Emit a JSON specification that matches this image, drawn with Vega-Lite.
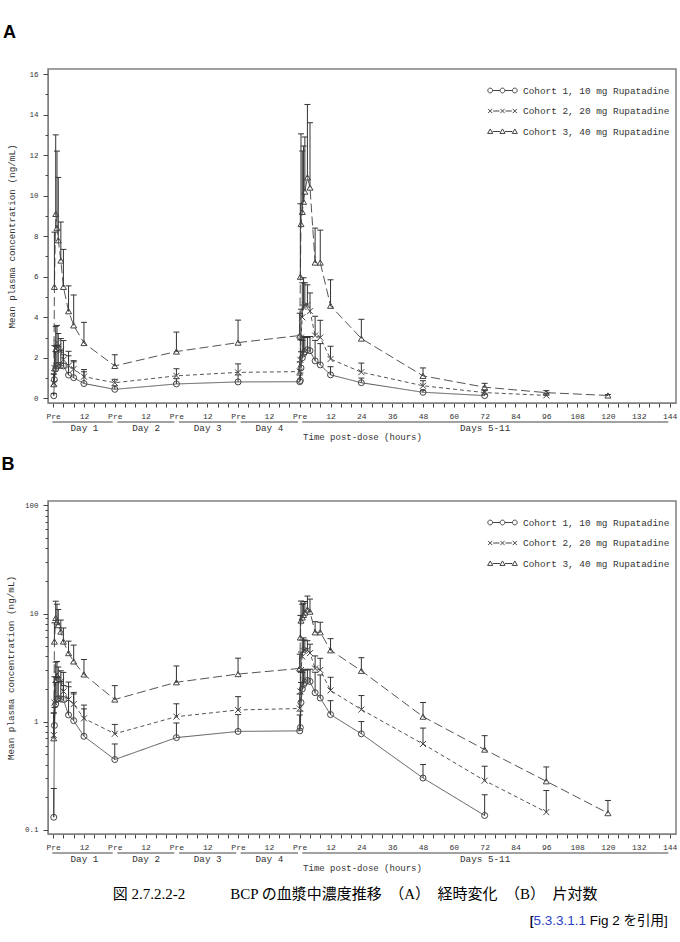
{
  "$schema": "https://vega.github.io/schema/vega-lite/v6.json",
  "background": "white",
  "padding": {"left": 0, "right": 0, "top": 23, "bottom": 4},
  "config": {
    "font": "Liberation Mono",
    "view": {"stroke": "#808080", "strokeWidth": 1.5},
    "axis": {
      "labelFont": "Liberation Mono",
      "titleFont": "Liberation Mono",
      "labelColor": "#333",
      "titleColor": "#333",
      "titleFontWeight": "normal",
      "tickColor": "#444",
      "domainColor": "#808080",
      "grid": false,
      "labelOverlap": false,
      "labelFlush": false,
      "labelBound": false
    }
  },
  "datasets": {
    "pk": [
      {"c": "Cohort 1, 10 mg Rupatadine", "t": 0.25, "m": 0.13, "u": 0.24},
      {"c": "Cohort 1, 10 mg Rupatadine", "t": 0.5, "m": 0.92, "u": 1.35},
      {"c": "Cohort 1, 10 mg Rupatadine", "t": 1, "m": 1.45, "u": 2.3},
      {"c": "Cohort 1, 10 mg Rupatadine", "t": 1.5, "m": 1.6, "u": 2.6},
      {"c": "Cohort 1, 10 mg Rupatadine", "t": 2, "m": 1.63, "u": 2.55},
      {"c": "Cohort 1, 10 mg Rupatadine", "t": 3, "m": 1.62, "u": 2.35},
      {"c": "Cohort 1, 10 mg Rupatadine", "t": 4, "m": 1.6, "u": 2.15},
      {"c": "Cohort 1, 10 mg Rupatadine", "t": 6, "m": 1.15, "u": 2.1},
      {"c": "Cohort 1, 10 mg Rupatadine", "t": 8, "m": 1.02, "u": 1.8},
      {"c": "Cohort 1, 10 mg Rupatadine", "t": 12, "m": 0.73, "u": 1.31},
      {"c": "Cohort 1, 10 mg Rupatadine", "t": 24, "m": 0.445, "u": 0.62},
      {"c": "Cohort 1, 10 mg Rupatadine", "t": 48, "m": 0.71, "u": 0.97},
      {"c": "Cohort 1, 10 mg Rupatadine", "t": 72, "m": 0.81, "u": 1.16},
      {"c": "Cohort 1, 10 mg Rupatadine", "t": 96, "m": 0.82, "u": 1.15},
      {"c": "Cohort 1, 10 mg Rupatadine", "t": 96.25, "m": 0.88, "u": 1.25},
      {"c": "Cohort 1, 10 mg Rupatadine", "t": 96.5, "m": 1.5, "u": 2.3},
      {"c": "Cohort 1, 10 mg Rupatadine", "t": 97, "m": 2.0, "u": 2.85},
      {"c": "Cohort 1, 10 mg Rupatadine", "t": 97.5, "m": 2.2, "u": 3.0},
      {"c": "Cohort 1, 10 mg Rupatadine", "t": 98, "m": 2.3, "u": 3.05},
      {"c": "Cohort 1, 10 mg Rupatadine", "t": 99, "m": 2.4, "u": 3.0},
      {"c": "Cohort 1, 10 mg Rupatadine", "t": 100, "m": 2.35, "u": 3.05},
      {"c": "Cohort 1, 10 mg Rupatadine", "t": 102, "m": 1.85, "u": 2.86},
      {"c": "Cohort 1, 10 mg Rupatadine", "t": 104, "m": 1.65, "u": 2.7},
      {"c": "Cohort 1, 10 mg Rupatadine", "t": 108, "m": 1.16, "u": 1.56},
      {"c": "Cohort 1, 10 mg Rupatadine", "t": 120, "m": 0.77, "u": 1.0},
      {"c": "Cohort 1, 10 mg Rupatadine", "t": 144, "m": 0.3, "u": 0.4},
      {"c": "Cohort 1, 10 mg Rupatadine", "t": 168, "m": 0.135, "u": 0.21},
      {"c": "Cohort 2, 20 mg Rupatadine", "t": 0.25, "m": 0.75, "u": 1.2},
      {"c": "Cohort 2, 20 mg Rupatadine", "t": 0.5, "m": 1.5, "u": 2.6},
      {"c": "Cohort 2, 20 mg Rupatadine", "t": 1, "m": 2.45, "u": 3.55},
      {"c": "Cohort 2, 20 mg Rupatadine", "t": 1.5, "m": 2.75, "u": 3.6},
      {"c": "Cohort 2, 20 mg Rupatadine", "t": 2, "m": 2.55, "u": 3.2},
      {"c": "Cohort 2, 20 mg Rupatadine", "t": 3, "m": 2.35, "u": 2.95},
      {"c": "Cohort 2, 20 mg Rupatadine", "t": 4, "m": 1.9, "u": 2.85},
      {"c": "Cohort 2, 20 mg Rupatadine", "t": 6, "m": 1.6, "u": 2.32},
      {"c": "Cohort 2, 20 mg Rupatadine", "t": 8, "m": 1.45, "u": 1.86},
      {"c": "Cohort 2, 20 mg Rupatadine", "t": 12, "m": 1.07, "u": 1.42},
      {"c": "Cohort 2, 20 mg Rupatadine", "t": 24, "m": 0.77, "u": 0.94},
      {"c": "Cohort 2, 20 mg Rupatadine", "t": 48, "m": 1.11, "u": 1.46},
      {"c": "Cohort 2, 20 mg Rupatadine", "t": 72, "m": 1.28, "u": 1.7},
      {"c": "Cohort 2, 20 mg Rupatadine", "t": 96, "m": 1.32, "u": 1.8},
      {"c": "Cohort 2, 20 mg Rupatadine", "t": 96.25, "m": 1.9, "u": 2.9},
      {"c": "Cohort 2, 20 mg Rupatadine", "t": 96.5, "m": 3.0, "u": 4.4},
      {"c": "Cohort 2, 20 mg Rupatadine", "t": 97, "m": 4.0, "u": 5.7},
      {"c": "Cohort 2, 20 mg Rupatadine", "t": 97.5, "m": 4.5, "u": 5.95},
      {"c": "Cohort 2, 20 mg Rupatadine", "t": 98, "m": 4.6, "u": 5.7},
      {"c": "Cohort 2, 20 mg Rupatadine", "t": 99, "m": 4.6, "u": 5.6},
      {"c": "Cohort 2, 20 mg Rupatadine", "t": 100, "m": 4.3, "u": 5.2},
      {"c": "Cohort 2, 20 mg Rupatadine", "t": 102, "m": 3.1, "u": 4.05},
      {"c": "Cohort 2, 20 mg Rupatadine", "t": 104, "m": 3.0, "u": 3.85},
      {"c": "Cohort 2, 20 mg Rupatadine", "t": 108, "m": 1.94, "u": 2.57},
      {"c": "Cohort 2, 20 mg Rupatadine", "t": 120, "m": 1.29, "u": 1.74},
      {"c": "Cohort 2, 20 mg Rupatadine", "t": 144, "m": 0.62, "u": 0.87},
      {"c": "Cohort 2, 20 mg Rupatadine", "t": 168, "m": 0.284, "u": 0.386},
      {"c": "Cohort 2, 20 mg Rupatadine", "t": 192, "m": 0.145, "u": 0.23},
      {"c": "Cohort 3, 40 mg Rupatadine", "t": 0.25, "m": 0.7, "u": 1.2},
      {"c": "Cohort 3, 40 mg Rupatadine", "t": 0.5, "m": 5.5, "u": 8.2},
      {"c": "Cohort 3, 40 mg Rupatadine", "t": 1, "m": 9.1, "u": 13.0},
      {"c": "Cohort 3, 40 mg Rupatadine", "t": 1.5, "m": 8.4, "u": 12.2},
      {"c": "Cohort 3, 40 mg Rupatadine", "t": 2, "m": 7.8, "u": 10.9},
      {"c": "Cohort 3, 40 mg Rupatadine", "t": 3, "m": 6.8, "u": 8.7},
      {"c": "Cohort 3, 40 mg Rupatadine", "t": 4, "m": 5.5, "u": 7.35},
      {"c": "Cohort 3, 40 mg Rupatadine", "t": 6, "m": 4.3, "u": 5.55},
      {"c": "Cohort 3, 40 mg Rupatadine", "t": 8, "m": 3.6, "u": 5.1},
      {"c": "Cohort 3, 40 mg Rupatadine", "t": 12, "m": 2.73, "u": 3.75},
      {"c": "Cohort 3, 40 mg Rupatadine", "t": 24, "m": 1.6, "u": 2.15},
      {"c": "Cohort 3, 40 mg Rupatadine", "t": 48, "m": 2.31, "u": 3.27},
      {"c": "Cohort 3, 40 mg Rupatadine", "t": 72, "m": 2.75, "u": 3.86},
      {"c": "Cohort 3, 40 mg Rupatadine", "t": 96, "m": 3.1, "u": 4.2},
      {"c": "Cohort 3, 40 mg Rupatadine", "t": 96.25, "m": 6.0, "u": 9.6},
      {"c": "Cohort 3, 40 mg Rupatadine", "t": 96.5, "m": 8.6, "u": 13.05},
      {"c": "Cohort 3, 40 mg Rupatadine", "t": 97, "m": 9.2, "u": 12.2},
      {"c": "Cohort 3, 40 mg Rupatadine", "t": 97.5, "m": 9.7, "u": 12.45},
      {"c": "Cohort 3, 40 mg Rupatadine", "t": 98, "m": 10.2, "u": 12.9},
      {"c": "Cohort 3, 40 mg Rupatadine", "t": 99, "m": 10.9, "u": 14.5},
      {"c": "Cohort 3, 40 mg Rupatadine", "t": 100, "m": 10.4, "u": 13.6},
      {"c": "Cohort 3, 40 mg Rupatadine", "t": 102, "m": 6.7, "u": 8.4},
      {"c": "Cohort 3, 40 mg Rupatadine", "t": 104, "m": 6.7, "u": 8.3},
      {"c": "Cohort 3, 40 mg Rupatadine", "t": 108, "m": 4.57, "u": 5.85},
      {"c": "Cohort 3, 40 mg Rupatadine", "t": 120, "m": 2.95, "u": 3.9},
      {"c": "Cohort 3, 40 mg Rupatadine", "t": 144, "m": 1.11, "u": 1.5},
      {"c": "Cohort 3, 40 mg Rupatadine", "t": 168, "m": 0.55, "u": 0.74},
      {"c": "Cohort 3, 40 mg Rupatadine", "t": 192, "m": 0.28, "u": 0.38},
      {"c": "Cohort 3, 40 mg Rupatadine", "t": 216, "m": 0.142, "u": 0.186}
    ],
    "days": [
      {"day": "Day 1", "start": -0.3, "end": 23.2},
      {"day": "Day 2", "start": 25, "end": 47.2},
      {"day": "Day 3", "start": 49, "end": 71.3},
      {"day": "Day 4", "start": 73, "end": 95.3},
      {"day": "Days 5-11", "start": 97, "end": 239.5}
    ]
  },
  "title": {
    "text": "[5.3.3.1.1",
    "subtitle": "[\u00a0\u00a0\u00a0\u00a0\u00a0\u00a0\u00a0\u00a0\u00a0\u00a0\u00a0\u00a0\u00a0\u00a0 Fig 2 を引用]",
    "orient": "bottom",
    "anchor": "start",
    "align": "left",
    "frame": "bounds",
    "font": "Liberation Sans, Noto Sans CJK JP",
    "fontSize": 13.5,
    "fontWeight": "normal",
    "color": "#2a3fc8",
    "subtitleFont": "Liberation Sans, Noto Sans CJK JP",
    "subtitleFontSize": 13.5,
    "subtitleColor": "#000000",
    "subtitlePadding": -13.5,
    "offset": 12,
    "dx": 529
  },
  "resolve": {"scale": {"x": "independent", "y": "independent", "shape": "independent", "strokeDash": "independent", "color": "independent"}},
  "vconcat": [
    {
      "title": {
        "text": "図 2.7.2.2-2　　　BCP の血漿中濃度推移　（A）\u2002経時変化\u2002（B）\u2002片対数",
        "orient": "bottom",
        "anchor": "middle",
        "frame": "bounds",
        "font": "Liberation Serif, Noto Sans CJK JP",
        "fontSize": 15,
        "fontWeight": "normal",
        "color": "#000000",
        "offset": 15,
        "dx": 16
      },
      "spacing": 13,
      "resolve": {"scale": {"x": "independent", "y": "independent", "shape": "independent", "strokeDash": "independent", "color": "independent"}},
      "vconcat": [
        {
          "spacing": 0,
          "resolve": {"scale": {"x": "independent", "y": "independent", "shape": "independent", "strokeDash": "independent", "color": "independent"}},
          "vconcat": [
            {
              "width": 628,
              "height": 334,
              "title": {"text": "A", "anchor": "start", "frame": "bounds", "font": "Liberation Sans", "fontSize": 18, "fontWeight": "bold", "color": "#000000", "offset": 27, "dx": -5},
              "data": {"name": "pk"},
              "encoding": {
                "x": {
                  "field": "t", "type": "quantitative",
                  "scale": {"domain": [-2, 242.5], "nice": false, "zero": false},
                  "axis": {
                    "title": null,
                    "values": [0,4,8,12,16,20,24,28,32,36,40,44,48,52,56,60,64,68,72,76,80,84,88,92,96,100,104,108,112,116,120,124,128,132,136,140,144,148,152,156,160,164,168,172,176,180,184,188,192,196,200,204,208,212,216,220,224,228,232,236,240],
                    "labelExpr": "datum.value % 12 !== 0 ? '' : (datum.value < 96 ? (datum.value % 24 === 0 ? 'Pre' : '12') : (datum.value === 96 ? 'Pre' : format(datum.value - 96, 'd')))",
                    "labelAngle": 0, "labelFontSize": 8, "tickSize": 4, "labelPadding": 5
                  }
                },
                "y": {
                  "field": "m", "type": "quantitative",
                  "scale": {"domain": [-0.23, 16.25], "nice": false, "zero": false},
                  "axis": {
                    "title": "Mean plasma concentration (ng/mL)",
                    "values": [0,1,2,3,4,5,6,7,8,9,10,11,12,13,14,15,16],
                    "labelExpr": "datum.value % 2 === 0 ? datum.label : ''",
                    "labelFontSize": 7.5, "titleFontSize": 9.3, "titlePadding": 12,
                    "tickSize": {"condition": {"test": "datum.value % 2 === 0", "value": 5}, "value": 3},
                    "labelPadding": 5
                  }
                }
              },
              "layer": [
                {
                  "mark": {"type": "line", "color": "#555555", "strokeWidth": 1},
                  "encoding": {
                    "detail": {"field": "c"},
                    "strokeDash": {"field": "c", "type": "nominal", "legend": null, "scale": {"range": [[1, 0], [4, 3], [9, 4]]}}
                  }
                },
                {
                  "mark": {"type": "rule", "color": "#333333", "strokeWidth": 1},
                  "encoding": {"y2": {"field": "u"}}
                },
                {
                  "mark": {"type": "tick", "orient": "horizontal", "size": 6, "thickness": 1, "color": "#333333", "opacity": 1},
                  "encoding": {
                    "y": {
                      "field": "u", "type": "quantitative",
                      "scale": {"domain": [-0.23, 16.25], "nice": false, "zero": false},
                      "axis": {
                        "title": "Mean plasma concentration (ng/mL)",
                        "values": [0,1,2,3,4,5,6,7,8,9,10,11,12,13,14,15,16],
                        "labelExpr": "datum.value % 2 === 0 ? datum.label : ''",
                        "labelFontSize": 7.5, "titleFontSize": 9.3, "titlePadding": 12,
                        "tickSize": {"condition": {"test": "datum.value % 2 === 0", "value": 5}, "value": 3},
                        "labelPadding": 5
                      }
                    }
                  }
                },
                {
                  "mark": {"type": "point", "filled": false, "size": 36, "strokeWidth": 1, "opacity": 1},
                  "encoding": {
                    "shape": {"field": "c", "type": "nominal", "legend": null, "scale": {"range": ["circle", "M-1,-1L1,1M-1,1L1,-1", "triangle-up"]}},
                    "color": {
                      "field": "c", "type": "nominal",
                      "scale": {"domain": ["Cohort 1, 10 mg Rupatadine", "Cohort 2, 20 mg Rupatadine", "Cohort 3, 40 mg Rupatadine"], "range": ["#444444", "#444444", "#444444"]},
                      "legend": {
                        "title": null, "orient": "top-right", "offset": 6, "padding": 0,
                        "labelFont": "Liberation Mono", "labelFontSize": 9.4, "labelColor": "#333333", "labelLimit": 400,
                        "symbolSize": 900, "symbolStrokeWidth": 1,
                        "labelOffset": 5, "rowPadding": 0.5,
                        "symbolType": {"expr": "indexof(datum.value, 'Cohort 1') === 0 ? 'M-0.98,0a0.16,0.16 0 1,0 0.32,0a0.16,0.16 0 1,0 -0.32,0M-0.66,0L-0.16,0M-0.16,0a0.16,0.16 0 1,0 0.32,0a0.16,0.16 0 1,0 -0.32,0M0.16,0L0.66,0M0.66,0a0.16,0.16 0 1,0 0.32,0a0.16,0.16 0 1,0 -0.32,0' : indexof(datum.value, 'Cohort 2') === 0 ? 'M-0.96,-0.14L-0.68,0.14M-0.96,0.14L-0.68,-0.14M-0.62,0L-0.2,0M-0.14,-0.14L0.14,0.14M-0.14,0.14L0.14,-0.14M0.2,0L0.62,0M0.68,-0.14L0.96,0.14M0.68,0.14L0.96,-0.14' : 'M-0.99,0.13L-0.82,-0.17L-0.65,0.13ZM-0.65,0L-0.17,0M-0.17,0.13L0,-0.17L0.17,0.13ZM0.17,0L0.65,0M0.65,0.13L0.82,-0.17L0.99,0.13Z'"}
                      }
                    }
                  }
                }
              ]
            },
            {
              "width": 628,
              "height": 2,
              "view": {"stroke": null},
              "data": {"name": "days"},
              "mark": {"type": "rule", "color": "#444444", "strokeWidth": 1},
              "encoding": {
                "x": {
                  "field": "start", "type": "quantitative",
                  "scale": {"domain": [-2, 242.5], "nice": false, "zero": false},
                  "axis": {
                    "values": [12, 36, 60, 84, 168],
                    "labelExpr": "datum.value === 12 ? 'Day 1' : datum.value === 36 ? 'Day 2' : datum.value === 60 ? 'Day 3' : datum.value === 84 ? 'Day 4' : 'Days 5-11'",
                    "domain": false, "ticks": false, "labelPadding": 0, "labelFontSize": 9.3, "labelAngle": 0,
                    "title": "Time post-dose (hours)", "titleFontSize": 9, "titlePadding": 0
                  }
                },
                "x2": {"field": "end"}
              }
            }
          ]
        },
        {
          "spacing": 0,
          "resolve": {"scale": {"x": "independent", "y": "independent", "shape": "independent", "strokeDash": "independent", "color": "independent"}},
          "vconcat": [
            {
              "width": 628,
              "height": 333,
              "title": {"text": "B", "anchor": "start", "frame": "bounds", "font": "Liberation Sans", "fontSize": 18, "fontWeight": "bold", "color": "#000000", "offset": 27, "dx": -5},
              "data": {"name": "pk"},
              "encoding": {
                "x": {
                  "field": "t", "type": "quantitative",
                  "scale": {"domain": [-2, 242.5], "nice": false, "zero": false},
                  "axis": {
                    "title": null,
                    "values": [0,4,8,12,16,20,24,28,32,36,40,44,48,52,56,60,64,68,72,76,80,84,88,92,96,100,104,108,112,116,120,124,128,132,136,140,144,148,152,156,160,164,168,172,176,180,184,188,192,196,200,204,208,212,216,220,224,228,232,236,240],
                    "labelExpr": "datum.value % 12 !== 0 ? '' : (datum.value < 96 ? (datum.value % 24 === 0 ? 'Pre' : '12') : (datum.value === 96 ? 'Pre' : format(datum.value - 96, 'd')))",
                    "labelAngle": 0, "labelFontSize": 8, "tickSize": 4, "labelPadding": 5
                  }
                },
                "y": {
                  "field": "m", "type": "quantitative",
                  "scale": {"type": "log", "domain": [0.091, 110], "nice": false, "zero": false},
                  "axis": {
                    "title": "Mean plasma concentration (ng/mL)",
                    "values": [0.1,0.2,0.3,0.4,0.5,0.6,0.7,0.8,0.9,1,2,3,4,5,6,7,8,9,10,20,30,40,50,60,70,80,90,100],
                    "labelExpr": "datum.value === 0.1 ? '0.1' : datum.value === 1 ? '1' : datum.value === 10 ? '10' : datum.value === 100 ? '100' : ''",
                    "labelFontSize": 7.5, "titleFontSize": 9.3, "titlePadding": 9,
                    "tickSize": {"condition": {"test": "datum.value === 0.1 || datum.value === 1 || datum.value === 10 || datum.value === 100", "value": 5}, "value": 3},
                    "labelPadding": 5
                  }
                }
              },
              "layer": [
                {
                  "mark": {"type": "line", "color": "#555555", "strokeWidth": 1},
                  "encoding": {
                    "detail": {"field": "c"},
                    "strokeDash": {"field": "c", "type": "nominal", "legend": null, "scale": {"range": [[1, 0], [4, 3], [9, 4]]}}
                  }
                },
                {
                  "mark": {"type": "rule", "color": "#333333", "strokeWidth": 1},
                  "encoding": {"y2": {"field": "u"}}
                },
                {
                  "mark": {"type": "tick", "orient": "horizontal", "size": 6, "thickness": 1, "color": "#333333", "opacity": 1},
                  "encoding": {
                    "y": {
                      "field": "u", "type": "quantitative",
                      "scale": {"type": "log", "domain": [0.091, 110], "nice": false, "zero": false},
                      "axis": {
                        "title": "Mean plasma concentration (ng/mL)",
                        "values": [0.1,0.2,0.3,0.4,0.5,0.6,0.7,0.8,0.9,1,2,3,4,5,6,7,8,9,10,20,30,40,50,60,70,80,90,100],
                        "labelExpr": "datum.value === 0.1 ? '0.1' : datum.value === 1 ? '1' : datum.value === 10 ? '10' : datum.value === 100 ? '100' : ''",
                        "labelFontSize": 7.5, "titleFontSize": 9.3, "titlePadding": 9,
                        "tickSize": {"condition": {"test": "datum.value === 0.1 || datum.value === 1 || datum.value === 10 || datum.value === 100", "value": 5}, "value": 3},
                        "labelPadding": 5
                      }
                    }
                  }
                },
                {
                  "mark": {"type": "point", "filled": false, "size": 36, "strokeWidth": 1, "opacity": 1},
                  "encoding": {
                    "shape": {"field": "c", "type": "nominal", "legend": null, "scale": {"range": ["circle", "M-1,-1L1,1M-1,1L1,-1", "triangle-up"]}},
                    "color": {
                      "field": "c", "type": "nominal",
                      "scale": {"domain": ["Cohort 1, 10 mg Rupatadine", "Cohort 2, 20 mg Rupatadine", "Cohort 3, 40 mg Rupatadine"], "range": ["#444444", "#444444", "#444444"]},
                      "legend": {
                        "title": null, "orient": "top-right", "offset": 6, "padding": 0,
                        "labelFont": "Liberation Mono", "labelFontSize": 9.4, "labelColor": "#333333", "labelLimit": 400,
                        "symbolSize": 900, "symbolStrokeWidth": 1,
                        "labelOffset": 5, "rowPadding": 0.5,
                        "symbolType": {"expr": "indexof(datum.value, 'Cohort 1') === 0 ? 'M-0.98,0a0.16,0.16 0 1,0 0.32,0a0.16,0.16 0 1,0 -0.32,0M-0.66,0L-0.16,0M-0.16,0a0.16,0.16 0 1,0 0.32,0a0.16,0.16 0 1,0 -0.32,0M0.16,0L0.66,0M0.66,0a0.16,0.16 0 1,0 0.32,0a0.16,0.16 0 1,0 -0.32,0' : indexof(datum.value, 'Cohort 2') === 0 ? 'M-0.96,-0.14L-0.68,0.14M-0.96,0.14L-0.68,-0.14M-0.62,0L-0.2,0M-0.14,-0.14L0.14,0.14M-0.14,0.14L0.14,-0.14M0.2,0L0.62,0M0.68,-0.14L0.96,0.14M0.68,0.14L0.96,-0.14' : 'M-0.99,0.13L-0.82,-0.17L-0.65,0.13ZM-0.65,0L-0.17,0M-0.17,0.13L0,-0.17L0.17,0.13ZM0.17,0L0.65,0M0.65,0.13L0.82,-0.17L0.99,0.13Z'"}
                      }
                    }
                  }
                }
              ]
            },
            {
              "width": 628,
              "height": 2,
              "view": {"stroke": null},
              "data": {"name": "days"},
              "mark": {"type": "rule", "color": "#444444", "strokeWidth": 1},
              "encoding": {
                "x": {
                  "field": "start", "type": "quantitative",
                  "scale": {"domain": [-2, 242.5], "nice": false, "zero": false},
                  "axis": {
                    "values": [12, 36, 60, 84, 168],
                    "labelExpr": "datum.value === 12 ? 'Day 1' : datum.value === 36 ? 'Day 2' : datum.value === 60 ? 'Day 3' : datum.value === 84 ? 'Day 4' : 'Days 5-11'",
                    "domain": false, "ticks": false, "labelPadding": 0, "labelFontSize": 9.3, "labelAngle": 0,
                    "title": "Time post-dose (hours)", "titleFontSize": 9, "titlePadding": 0
                  }
                },
                "x2": {"field": "end"}
              }
            }
          ]
        }
      ]
    }
  ]
}
